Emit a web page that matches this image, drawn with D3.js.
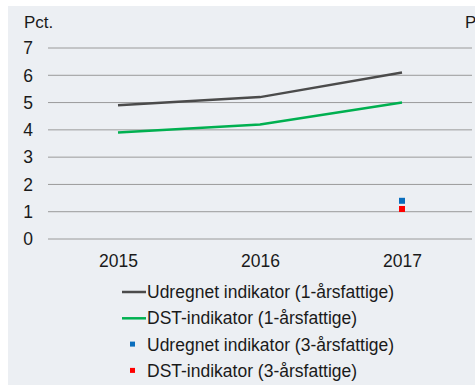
<!DOCTYPE html>
<html>
<head>
<meta charset="utf-8">
<script src="https://cdn.jsdelivr.net/npm/d3@7"></script>
<style>
  html, body { margin: 0; padding: 0; background: #ffffff; }
  svg { display: block; }
  text { font-family: "Liberation Sans", Arial, sans-serif; fill: #1a1a1a; }
</style>
</head>
<body>
<svg id="chart" width="475" height="385"></svg>
<script>
// Years on the x axis
const years = ["2015", "2016", "2017"];
// 1-year indicators (pct.)
const udregnet1 = [4.9, 5.2, 6.1];
const dst1 = [3.9, 4.2, 5.0];
// 3-year indicators, only available for 2017
const udregnet3 = [null, null, 1.4];
const dst3 = [null, null, 1.1];
// y-axis ticks
const yTicks = [0, 1, 2, 3, 4, 5, 6, 7];

const seriesLabels = [
  "Udregnet indikator (1-årsfattige)",
  "DST-indikator (1-årsfattige)",
  "Udregnet indikator (3-årsfattige)",
  "DST-indikator (3-årsfattige)"
];
const colors = { grey: "#4b4b4b", green: "#00b050", blue: "#0a6ebd", red: "#ff0000" };
const fontSize = 17.5;

const svg = d3.select("#chart");

// panel background
svg.append("rect").attr("x", 8).attr("y", 6).attr("width", 467).attr("height", 379).attr("fill", "#eceff3");

const x = d3.scalePoint().domain(years).range([118, 402]);
const y = d3.scaleLinear().domain([0, 7]).range([239, 48]);

// gridlines
svg.append("g").selectAll("line").data(yTicks).join("line")
  .attr("x1", 48).attr("x2", 472)
  .attr("y1", d => y(d)).attr("y2", d => y(d))
  .attr("stroke", "#9a9a9a").attr("stroke-width", 1);

// y axis labels
const yAxis = d3.axisLeft(y).tickValues(yTicks).tickSize(0).tickPadding(0).tickFormat(d3.format("d"));
const ya = svg.append("g").attr("transform", "translate(33,0)").call(yAxis);
ya.select(".domain").remove();
ya.selectAll("text").attr("font-size", fontSize).attr("font-family", "Liberation Sans, Arial, sans-serif")
  .attr("fill", "#1a1a1a").attr("dy", "0.33em");

// unit labels (the right one runs off the edge of the panel)
svg.append("text").attr("x", 24).attr("y", 28).attr("font-size", 17).text("Pct.");
svg.append("text").attr("x", 465).attr("y", 28).attr("font-size", 17).text("Pct.");

// x axis labels
const xAxis = d3.axisBottom(x).tickSize(0).tickPadding(0);
const xa = svg.append("g").attr("transform", "translate(0,267)").call(xAxis);
xa.select(".domain").remove();
xa.selectAll("text").attr("font-size", fontSize).attr("font-family", "Liberation Sans, Arial, sans-serif")
  .attr("fill", "#1a1a1a").attr("dy", "0").attr("y", 0);

// lines
const line = d3.line().x((d, i) => x(years[i])).y(d => y(d));
svg.append("path").datum(udregnet1).attr("d", line).attr("fill", "none")
  .attr("stroke", colors.grey).attr("stroke-width", 2.5);
svg.append("path").datum(dst1).attr("d", line).attr("fill", "none")
  .attr("stroke", colors.green).attr("stroke-width", 2.5);

// point markers
const sq = 6;
function points(data, color) {
  svg.append("g").selectAll("rect")
    .data(data.map((v, i) => ({ v, yr: years[i] })).filter(d => d.v !== null))
    .join("rect")
    .attr("x", d => x(d.yr) - sq / 2).attr("y", d => y(d.v) - sq / 2)
    .attr("width", sq).attr("height", sq).attr("fill", color);
}
points(udregnet3, colors.blue);
points(dst3, colors.red);

// legend
const legendRows = [
  { label: seriesLabels[0], type: "line", color: colors.grey },
  { label: seriesLabels[1], type: "line", color: colors.green },
  { label: seriesLabels[2], type: "square", color: colors.blue },
  { label: seriesLabels[3], type: "square", color: colors.red }
];
const lg = svg.append("g").selectAll("g").data(legendRows).join("g")
  .attr("transform", (d, i) => `translate(0,${298 + i * 26.3})`);
lg.filter(d => d.type === "line").append("line")
  .attr("x1", 122).attr("x2", 146).attr("y1", -6).attr("y2", -6)
  .attr("stroke", d => d.color).attr("stroke-width", 2.5);
lg.filter(d => d.type === "square").append("rect")
  .attr("x", 130).attr("y", -9).attr("width", 5).attr("height", 5)
  .attr("fill", d => d.color);
lg.append("text").attr("x", 147).attr("y", 0)
  .attr("font-size", fontSize).text(d => d.label);
</script>
</body>
</html>
